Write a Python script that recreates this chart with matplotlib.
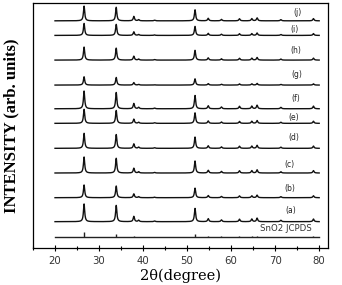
import numpy as np
import matplotlib
matplotlib.use("Agg")
import matplotlib.pyplot as plt
from matplotlib.ticker import MultipleLocator

# SnO2 reflections (2theta, degree) and relative intensity seen in the scans
peak_pos = [26.6, 33.9, 37.9, 39.0, 42.6, 51.8, 54.8, 57.8, 61.9, 64.7, 65.9, 71.3, 78.7]
peak_rel = [1.00, 0.92, 0.30, 0.08, 0.04, 0.75, 0.17, 0.10, 0.14, 0.15, 0.20, 0.08, 0.15]

# samples from bottom to top
labels = ["(a)", "(b)", "(c)", "(d)", "(e)", "(f)", "(g)", "(h)", "(i)", "(j)"]
offsets = [26.3, 50.3, 75.0, 99.7, 124.7, 139.3, 163.0, 188.0, 212.7, 227.3]
heights = [17.7, 12.7, 16.0, 15.0, 14.0, 17.7, 8.3, 13.0, 12.0, 14.7]
label_x = [73.5, 73.3, 73.3, 74.2, 74.2, 74.7, 74.9, 74.7, 74.4, 75.0]
label_dy = [11, 9, 9, 11, 6, 10, 11, 10, 6, 8]

# JCPDS reference sticks
jcpds_offset = 11.0
jcpds_pos = [26.6, 33.9, 37.9, 51.8, 54.8, 57.8, 61.9, 64.7, 65.9, 71.3, 78.7]
jcpds_h = [4.7, 3.0, 1.2, 2.8, 0.8, 0.5, 0.7, 0.8, 0.9, 0.4, 0.6]

tt = np.linspace(20, 80, 6001)
gamma = 0.17


def pattern(scale):
    y = np.zeros_like(tt)
    for p, r in zip(peak_pos, peak_rel):
        y += scale * r / (1 + ((tt - p) / gamma) ** 2)
    return y


fig = plt.figure(figsize=(3.42, 2.85), dpi=100)
ax = fig.add_axes([0.0965, 0.13, 0.8625, 0.859])

for lab, off, h, lx, dy in zip(labels, offsets, heights, label_x, label_dy):
    ax.plot(tt, off + pattern(h), color="#111111", lw=1.0)
    ax.text(lx, off + dy, lab, fontsize=5.5, ha="center", va="center", color="#222222")

ax.plot([20, 80], [jcpds_offset, jcpds_offset], color="#222222", lw=1.0)
ax.vlines(jcpds_pos, jcpds_offset, [jcpds_offset + h for h in jcpds_h], color="#222222", lw=1.0)
ax.text(72.5, jcpds_offset + 8, "SnO2 JCPDS", fontsize=6.2, ha="center", va="center", color="#333333")

ax.set_xlim(15, 82)
ax.set_ylim(0, 245)
ax.set_yticks([])
ax.xaxis.set_major_locator(MultipleLocator(10))
ax.xaxis.set_minor_locator(MultipleLocator(5))
ax.tick_params(axis="x", which="major", direction="inout", length=5, width=0.8,
               labelsize=7.3, labelcolor="#333333", pad=3)
ax.tick_params(axis="x", which="minor", direction="inout", length=3, width=0.8)
for s in ax.spines.values():
    s.set_linewidth(0.9)

ax.set_xlabel("2θ(degree)", family="DejaVu Serif", fontsize=10.5, labelpad=2.5)
ax.set_ylabel("INTENSITY (arb. units)", family="Liberation Serif", fontweight="bold", fontsize=12, labelpad=10)

fig.savefig("out.png", dpi=100)
